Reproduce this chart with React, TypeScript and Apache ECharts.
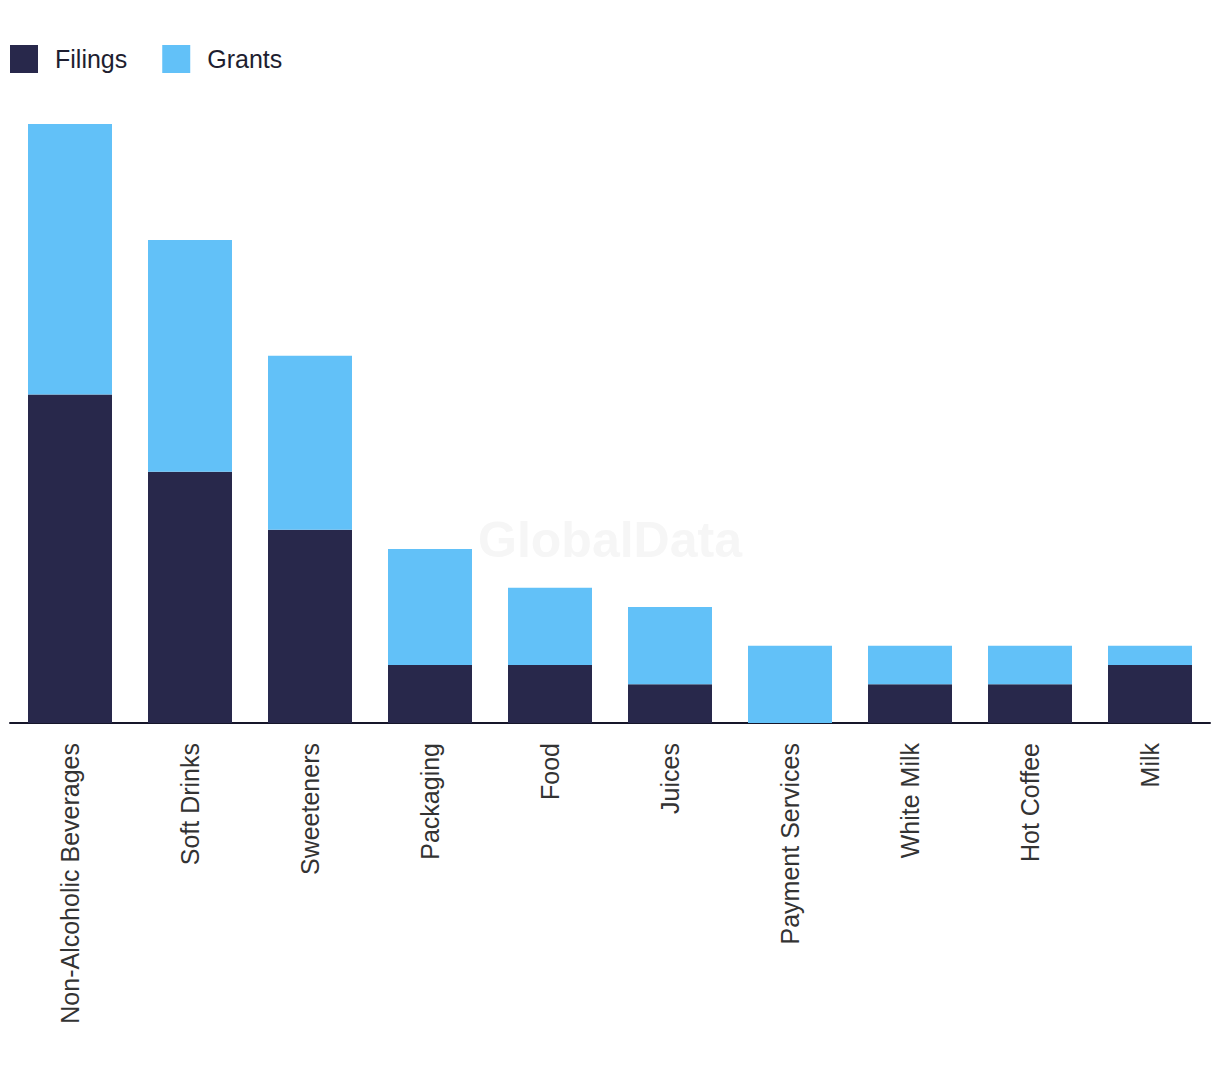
import React, { useEffect, useRef } from "react";
import * as echarts from "echarts";

const categories = [
  "Non-Alcoholic Beverages",
  "Soft Drinks",
  "Sweeteners",
  "Packaging",
  "Food",
  "Juices",
  "Payment Services",
  "White Milk",
  "Hot Coffee",
  "Milk",
];
const filings = [17, 13, 10, 3, 3, 2, 0, 2, 2, 3];
const grants = [14, 12, 9, 6, 4, 4, 4, 2, 2, 1];

const FONT = "'Liberation Sans', Arial, sans-serif";

export default function App() {
  const ref = useRef<HTMLDivElement>(null);
  useEffect(() => {
    if (!ref.current) return;
    const chart = echarts.init(ref.current, undefined, { renderer: "svg" });
    chart.setOption({
      animation: false,
      backgroundColor: "#ffffff",
      graphic: [
        {
          type: "text",
          left: "center",
          top: 515,
          z: -1,
          style: {
            text: "GlobalData",
            fontSize: 50,
            fontWeight: "bold",
            fontFamily: FONT,
            fill: "#f6f6f6",
          },
        },
      ],
      legend: {
        left: 5,
        top: 40,
        itemWidth: 28,
        itemHeight: 28,
        itemGap: 35,
        icon: "rect",
        textStyle: {
          fontSize: 25,
          fontFamily: FONT,
          color: "#1e1e30",
          padding: [0, 0, 0, 12],
        },
        data: ["Filings", "Grants"],
      },
      grid: { left: 10, right: 10, top: 124, bottom: 355, containLabel: false },
      xAxis: {
        type: "category",
        data: categories,
        axisTick: { show: false },
        axisLine: { lineStyle: { color: "#16162a", width: 2 } },
        axisLabel: {
          rotate: 90,
          margin: 20,
          fontSize: 25,
          fontFamily: FONT,
          color: "#333333",
          interval: 0,
        },
      },
      yAxis: {
        type: "value",
        min: 0,
        max: 31,
        show: false,
        splitLine: { show: false },
      },
      series: [
        {
          name: "Filings",
          type: "bar",
          stack: "total",
          barWidth: "70%",
          itemStyle: { color: "#28284b" },
          data: filings,
        },
        {
          name: "Grants",
          type: "bar",
          stack: "total",
          barWidth: "70%",
          itemStyle: { color: "#62c1f8" },
          data: grants,
        },
      ],
    });
    return () => chart.dispose();
  }, []);
  return (
    <div
      ref={ref}
      style={{ position: "fixed", left: 0, top: 0, width: 1220, height: 1078 }}
    />
  );
}
